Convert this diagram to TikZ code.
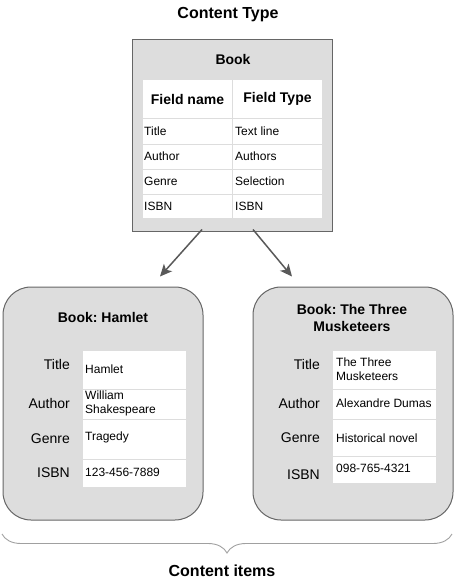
\documentclass[tikz,border=0pt]{standalone}
\usepackage{fontspec}
\setmainfont{Liberation Sans}
\usetikzlibrary{arrows.meta,decorations.pathreplacing}
\frenchspacing

\begin{document}
\begin{tikzpicture}[x=1pt,y=-1pt,
        card/.style={draw=edgegray,fill=boxgray,line width=1pt,inner sep=0pt},
        heading/.style={font=\bfseries\fontsize{16}{19}\selectfont},
        cardtitle/.style={font=\bfseries\fontsize{14}{17}\selectfont,align=center},
        cell/.style={font=\fontsize{12}{14}\selectfont,inner sep=0pt,anchor=west,align=left},
        label/.style={font=\fontsize{14}{16}\selectfont,inner sep=0pt,anchor=east},
        sep/.style={draw=boxgray,line width=1pt},
        arrow/.style={draw=arrowgray,line width=1.5pt,-{Stealth[length=12pt,width=11pt,inset=3pt]}},
        brace/.style={draw=bracegray,line width=0.9pt,decorate,decoration={brace,mirror,amplitude=19pt}}]
        %colores
        \definecolor{boxgray}{HTML}{DDDDDD}
        \definecolor{edgegray}{HTML}{666666}
        \definecolor{arrowgray}{HTML}{595959}
        \definecolor{bracegray}{HTML}{A0A0A0}
        \useasboundingbox (0,0) rectangle (454,583);

        % Tipo de contenido
        \node[heading] (ctype) at (228,15) {Content Type};
        \node[card,minimum width=200pt,minimum height=191pt] (book) at (232,135.5) {};
        \node[cardtitle] (booktitle) at (233,59) {Book};
        \fill[white] (143,80) rectangle (322,218);
        \draw[sep] (232,80) -- (232,218);
        \foreach \y in {119,144,169,194}
            \draw[sep] (143,\y) -- (322,\y);
        \node[cardtitle] (fname) at (187.5,99) {Field name};
        \node[cardtitle] (ftype) at (277.5,99) {Field Type};
        \foreach \n/\t [count=\i] in {Title/Text line,Author/Authors,Genre/Selection,ISBN/ISBN}
        {
            \node[cell] (fn\i) at (144,106+25*\i) {\n};
            \node[cell] (ft\i) at (235,106+25*\i) {\t};
        }

        % Item 1
        \node[card,rounded corners=28pt,minimum width=200pt,minimum height=233pt] (hamlet) at (103,403.5) {};
        \node[cardtitle] (hamlettitle) at (103,317) {Book: Hamlet};
        \fill[white] (83,351) rectangle (186,487);
        \foreach \y in {389,419,459}
            \draw[sep] (83,\y) -- (186,\y);
        \foreach \n/\y [count=\i] in {Title/364,Author/403,Genre/439,ISBN/473}
            \node[label] (hl\i) at (70,\y) {\n};
        \node[cell] (hv1) at (85,369) {Hamlet};
        \node[cell] (hv2) at (85,403.5) {William\\Shakespeare};
        \node[cell] (hv3) at (85,437) {Tragedy};
        \node[cell] (hv4) at (85,472) {123-456-7889};

        % Item 2
        \node[card,rounded corners=28pt,minimum width=200pt,minimum height=233pt] (musk) at (353,403.5) {};
        \node[cardtitle] (musktitle) at (352,317.5) {Book: The Three\\Musketeers};
        \fill[white] (333,351) rectangle (436,483);
        \foreach \y in {389,419,456}
            \draw[sep] (333,\y) -- (436,\y);
        \foreach \n/\y [count=\i] in {Title/364,Author/403,Genre/438,ISBN/475}
            \node[label] (ml\i) at (320,\y) {\n};
        \node[cell] (mv1) at (336,369) {The Three\\Musketeers};
        \node[cell] (mv2) at (336,403) {Alexandre Dumas};
        \node[cell] (mv3) at (336,438) {Historical novel};
        \node[cell] (mv4) at (336,468) {098-765-4321};

        % Flechas
        \draw[arrow] ([xshift=-30pt,yshift=2pt]book.south) -- ([xshift=57pt,yshift=10pt]hamlet.north);
        \draw[arrow] ([xshift=21pt,yshift=2pt]book.south) -- ([xshift=-61pt,yshift=10pt]musk.north);

        % Llave
        \draw[brace] (2,534) -- (452,534);
        \node[heading] (citems) at (222,571) {Content items};
    \end{tikzpicture}
\end{document}
